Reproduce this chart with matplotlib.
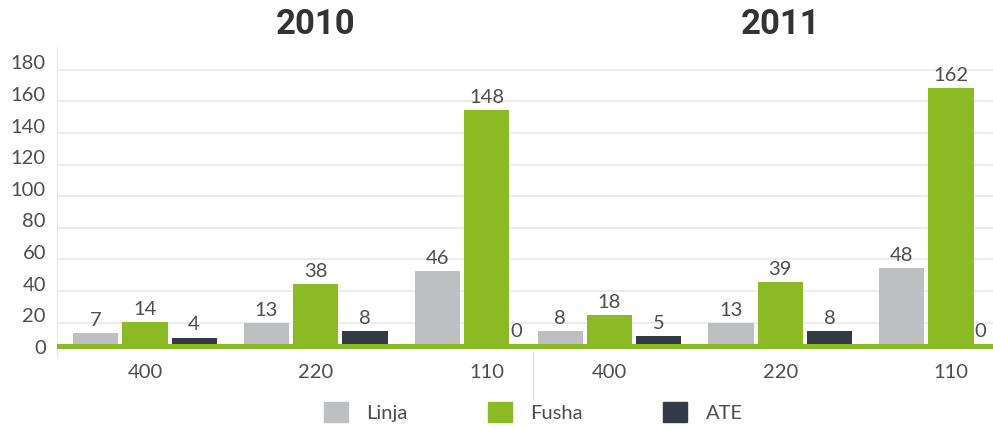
import numpy as np
import matplotlib
matplotlib.use('Agg')
import matplotlib.pyplot as plt
import matplotlib.transforms as mtransforms
from matplotlib.patches import Patch

# data
years = ['2010', '2011']
categories = ['400', '220', '110']
series = ['Linja', 'Fusha', 'ATE']
linja = [[7, 13, 46], [8, 13, 48]]
fusha = [[14, 38, 148], [18, 39, 162]]
ate = [[4, 8, 0], [5, 8, 0]]
yticks = [0, 20, 40, 60, 80, 100, 120, 140, 160, 180]

colors = ['#bdbfc2', '#8cba25', '#323b45']
txt_col = '#4d4d4d'
base = 6.5          # bars sit on a raised green baseline
panel_shift = 2.72  # x distance between first groups of the two years
width = 0.265
step = 0.288

fig = plt.figure(figsize=(9.93, 4.29), dpi=100)
ax = fig.add_axes([0.0574, 0.167, 0.9426, 0.724])

label_font = dict(family=['Lato', 'DejaVu Sans'], fontsize=14.5, color=txt_col)

tick_pos, tick_lab = [], []
for yi, year in enumerate(years):
    centers = np.arange(len(categories)) + yi * panel_shift
    tick_pos += list(centers)
    tick_lab += categories
    for si, vals in enumerate([linja[yi], fusha[yi], ate[yi]]):
        xs = centers + (si - 1) * step
        ax.bar(xs, vals, width=width, bottom=base, color=colors[si], zorder=3)
        for x, v in zip(xs, vals):
            dx = -14 if v == 0 else 0
            ax.annotate(str(v), (x, base + v), xytext=(dx, 3), textcoords='offset points',
                        ha='center', va='bottom', annotation_clip=False, **label_font)
    ax.text(centers[1], 0.944, year, transform=mtransforms.blended_transform_factory(ax.transData, fig.transFigure),
            ha='center', va='center', fontsize=25, fontweight='bold', color='#333333',
            family=['Roboto', 'DejaVu Sans'])

# green baseline
ax.axhspan(base - 3, base, color=colors[1], zorder=4, lw=0)

ax.set_xlim(-0.515, 4.966)
ax.set_ylim(-2, 194.6)
ax.set_yticks(yticks)
ax.set_xticks(tick_pos)
ax.set_xticklabels(tick_lab)
ax.grid(axis='y', color='#ececec', lw=1.3, zorder=0)
ax.yaxis.get_gridlines()[0].set_visible(False)
ax.tick_params(length=0, labelsize=14.5, labelcolor=txt_col)
ax.tick_params(axis='x', pad=5)
ax.tick_params(axis='y', pad=8)
for lab in ax.get_xticklabels() + ax.get_yticklabels():
    lab.set_family(['Lato', 'DejaVu Sans'])
# y labels sit a bit above their gridlines
off = mtransforms.ScaledTranslation(0, 0.075, fig.dpi_scale_trans)
for lab in ax.get_yticklabels():
    lab.set_transform(lab.get_transform() + off)

for s in ['top', 'right', 'bottom']:
    ax.spines[s].set_visible(False)
ax.spines['left'].set_color('#e6e6e6')

# separator between the two years
sep = mtransforms.blended_transform_factory(ax.transData, fig.transFigure)
ax.plot([2.27, 2.27], [1 - 352 / 429, 1 - 400 / 429], color='#dddddd', lw=1, transform=sep, clip_on=False)

handles = [Patch(color=c, label=s) for c, s in zip(colors, series)]
fig.legend(handles=handles, loc='center', bbox_to_anchor=(0.537, 0.04), ncol=3, frameon=False,
           handlelength=1.2, handleheight=1.2, handletextpad=0.9, columnspacing=4.0,
           prop=dict(family=['Lato', 'DejaVu Sans'], size=14.5), labelcolor=txt_col)

fig.savefig('out.png', dpi=100, facecolor='white')
